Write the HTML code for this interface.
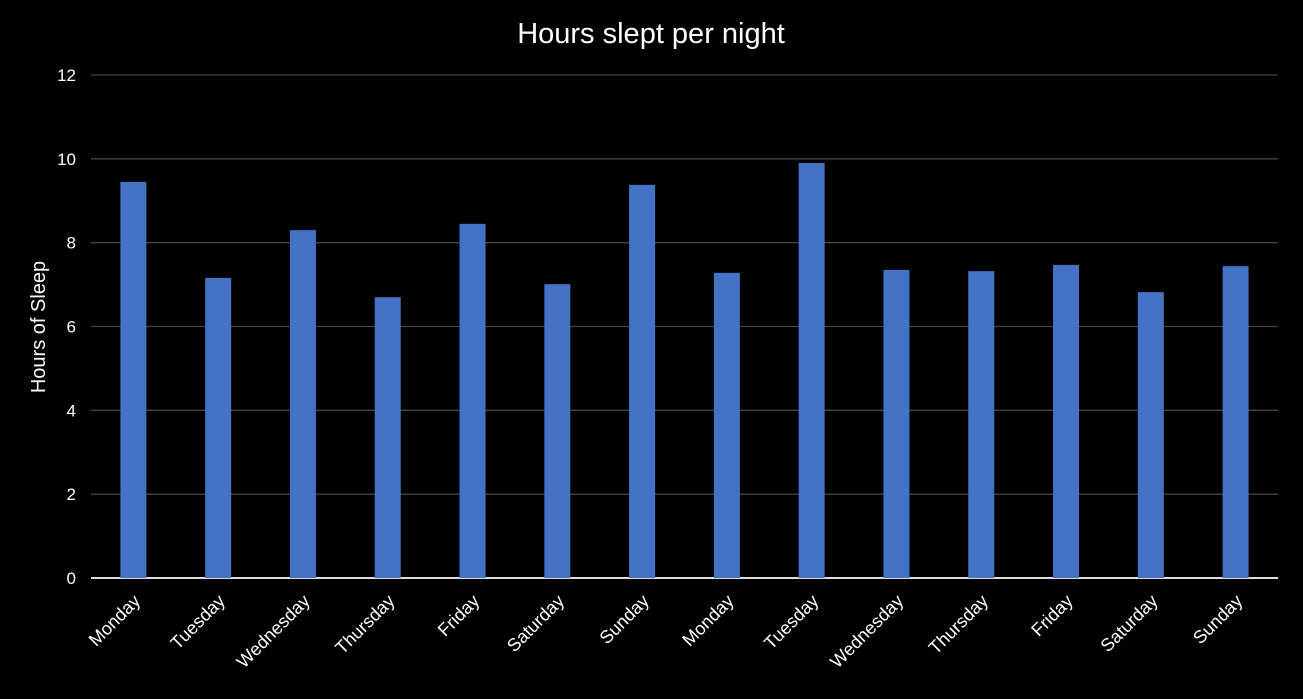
<!DOCTYPE html>
<html><head><meta charset="utf-8"><style>
html,body{margin:0;padding:0;background:#000;}
svg{display:block;font-family:"Liberation Sans",sans-serif;}
</style></head><body>
<svg width="1303" height="699" viewBox="0 0 1303 699">
<rect width="1303" height="699" fill="#000"/>
<text x="651" y="43" text-anchor="middle" fill="#fff" font-size="29">Hours slept per night</text>
<text transform="translate(45,327) rotate(-90)" text-anchor="middle" fill="#fff" font-size="20">Hours of Sleep</text>
<g id="grid"></g><g id="bars"></g><g id="xlabels"></g>
</svg>
<script>
const categories=["Monday","Tuesday","Wednesday","Thursday","Friday","Saturday","Sunday","Monday","Tuesday","Wednesday","Thursday","Friday","Saturday","Sunday"];
const hours=[9.45,7.16,8.3,6.7,8.45,7.01,9.38,7.28,9.9,7.35,7.32,7.47,6.82,7.44];
const yTicks=[0,2,4,6,8,10,12];
const NS="http://www.w3.org/2000/svg";
const x0=91,x1=1278,yBase=578,yTop=75,yMax=12;
const band=(x1-x0)/categories.length;
const y=v=>yBase-(v/yMax)*(yBase-yTop);
const xc=i=>x0+band*(i+0.5);
const grid=document.getElementById('grid'),bars=document.getElementById('bars'),xl=document.getElementById('xlabels');
yTicks.forEach(t=>{
  const l=document.createElementNS(NS,'line');
  l.setAttribute('x1',x0);l.setAttribute('x2',x1);l.setAttribute('y1',y(t));l.setAttribute('y2',y(t));
  l.setAttribute('stroke',t===0?'#ddd':'#444');l.setAttribute('stroke-width',t===0?2:1.3);
  
  
  grid.appendChild(l);
  const tx=document.createElementNS(NS,'text');
  tx.setAttribute('x',76);tx.setAttribute('y',y(t)+6);tx.setAttribute('text-anchor','end');
  tx.setAttribute('fill','#fff');tx.setAttribute('font-size','17');tx.textContent=t;
  
  
  grid.appendChild(tx);
});
hours.forEach((v,i)=>{
  const r=document.createElementNS(NS,'rect');
  r.setAttribute('x',xc(i)-13);r.setAttribute('width',26);
  r.setAttribute('y',y(v));r.setAttribute('height',yBase-y(v));
  r.setAttribute('fill','#4472c4');
  
  
  bars.appendChild(r);
  const t=document.createElementNS(NS,'text');
  t.setAttribute('transform','translate('+(xc(i)+8)+',602) rotate(-45)');
  t.setAttribute('text-anchor','end');t.setAttribute('fill','#fff');t.setAttribute('font-size','18');
  t.textContent=categories[i];
  
  
  xl.appendChild(t);
});
</script>
</body></html>
